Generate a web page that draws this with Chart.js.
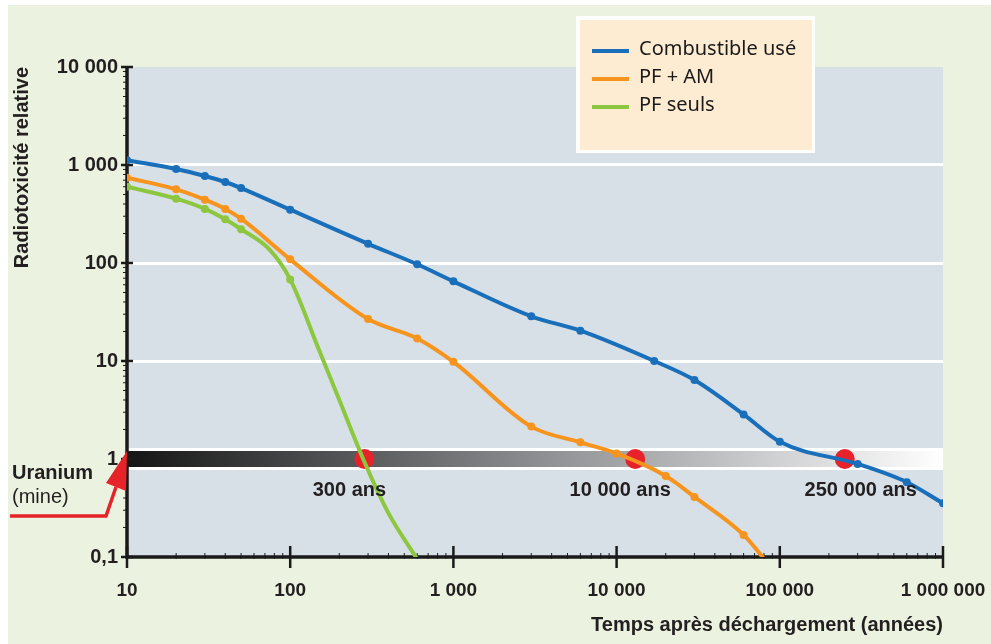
<!DOCTYPE html>
<html lang="fr">
<head>
<meta charset="utf-8">
<title>Radiotoxicité relative</title>
<script src="https://cdn.jsdelivr.net/npm/chart.js@4.4.1/dist/chart.umd.min.js"></script>
<style>
  html, body { margin: 0; padding: 0; background: #fff; }
  #wrap { width: 991px; height: 644px; }
</style>
</head>
<body>
<div id="wrap"><canvas id="radioChart"></canvas></div>
<script>
// temps après déchargement (années) / radiotoxicité relative
const timeCombustible = [10, 20, 30, 40, 50, 100, 300, 600, 1000, 3000, 6000, 17000, 30000, 60000, 100000, 300000, 600000, 1000000];
const valCombustible = [1120, 910, 772, 671, 582, 350, 157, 97, 65, 28.6, 20.4, 10, 6.4, 2.85, 1.5, 0.89, 0.58, 0.353];

const timePfAm = [10, 20, 30, 40, 50, 100, 300, 600, 1000, 3000, 6000, 10000, 20000, 30000, 60000, 90000];
const valPfAm = [742, 565, 443, 356, 283, 109, 26.8, 17, 9.8, 2.14, 1.48, 1.14, 0.67, 0.41, 0.168, 0.075];

const timePf = [10, 20, 30, 40, 50, 75, 100, 150, 200, 280, 400, 600];
const valPf = [601, 453, 356, 279, 221, 136, 68, 13, 4.0, 1.0, 0.28, 0.095];
const pfMarked = [1, 1, 1, 1, 1, 0, 1, 0, 0, 0, 0, 0];

// croisements avec le niveau de l'uranium (1)
const crossTimes = [285, 13000, 250000];
const crossLabels = ['300 ans', '10 000 ans', '250 000 ans'];

const xTicks = [10, 100, 1000, 10000, 100000, 1000000];
const xTickLabels = ['10', '100', '1 000', '10 000', '100 000', '1 000 000'];
const yTicks = [0.1, 1, 10, 100, 1000, 10000];
const yTickLabels = ['0,1', '1', '10', '100', '1 000', '10 000'];

const BLUE = '#1a6fbb';
const ORANGE = '#f7941e';
const GREEN = '#8dc63f';
const RED = '#e8222b';
const INK = '#231f20';
const BOLD = 'bold 20px "Liberation Sans", Arial, sans-serif';

const toPoints = (xs, ys) => xs.map((x, i) => ({ x: x, y: ys[i] }));

const decorations = {
  id: 'decorations',
  beforeDraw(chart) {
    const { ctx, chartArea: a } = chart;
    ctx.save();
    ctx.fillStyle = '#ffffff';
    ctx.fillRect(0, 0, chart.width, chart.height);
    ctx.fillStyle = '#ebf3e0';
    ctx.fillRect(8, 5, chart.width - 8, chart.height - 5);
    ctx.fillStyle = '#d7e0e7';
    ctx.fillRect(a.left, a.top, a.right - a.left, a.bottom - a.top);
    ctx.restore();
  },
  beforeDatasetsDraw(chart) {
    const { ctx, chartArea: a, scales: { x, y } } = chart;
    const y1 = y.getPixelForValue(1);
    ctx.save();
    // bande uranium
    ctx.fillStyle = '#ffffff';
    ctx.fillRect(a.left, y1 - 11, a.right - a.left, 22);
    const grad = ctx.createLinearGradient(a.left, 0, a.right, 0);
    grad.addColorStop(0, '#151515');
    grad.addColorStop(0.5, '#8b8d90');
    grad.addColorStop(1, '#ffffff');
    ctx.fillStyle = grad;
    ctx.fillRect(a.left, y1 - 8, a.right - a.left, 16);

    // axes
    ctx.strokeStyle = '#1a1a1a';
    ctx.lineWidth = 3.5;
    ctx.beginPath();
    ctx.moveTo(a.left, a.top);
    ctx.lineTo(a.left, a.bottom);
    ctx.lineTo(a.right, a.bottom);
    ctx.stroke();

    // graduations y
    yTicks.forEach((d, i) => {
      const py = y.getPixelForValue(d);
      ctx.lineWidth = 2.5;
      ctx.beginPath();
      ctx.moveTo(a.left - 6, py);
      ctx.lineTo(a.left + 6, py);
      ctx.stroke();
      if (i < yTicks.length - 1) {
        ctx.lineWidth = 1;
        for (let k = 2; k < 10; k++) {
          const my = y.getPixelForValue(d * k);
          ctx.beginPath();
          ctx.moveTo(a.left - 4, my);
          ctx.lineTo(a.left, my);
          ctx.stroke();
        }
      }
    });
    // graduations x
    xTicks.forEach((d, i) => {
      const px = x.getPixelForValue(d);
      ctx.lineWidth = 2.5;
      ctx.beginPath();
      ctx.moveTo(px, a.bottom - 11);
      ctx.lineTo(px, a.bottom + 11);
      ctx.stroke();
      if (i < xTicks.length - 1) {
        ctx.lineWidth = 1;
        for (let k = 2; k < 10; k++) {
          const mx = x.getPixelForValue(d * k);
          ctx.beginPath();
          ctx.moveTo(mx, a.bottom - 4);
          ctx.lineTo(mx, a.bottom + 2);
          ctx.stroke();
        }
      }
    });
    ctx.restore();
  },
  afterDraw(chart) {
    const { ctx, chartArea: a, scales: { x, y } } = chart;
    const y1 = y.getPixelForValue(1);
    ctx.save();

    // étiquettes des croisements
    const shifts = [-15, -15, 16];
    ctx.font = BOLD;
    ctx.fillStyle = INK;
    ctx.textAlign = 'center';
    ctx.textBaseline = 'middle';
    crossTimes.forEach((t, i) => {
      ctx.fillText(crossLabels[i], x.getPixelForValue(t) + shifts[i], y1 + 31);
    });

    // Uranium (mine)
    ctx.textAlign = 'left';
    ctx.fillText('Uranium', 12, y1 + 14);
    ctx.font = '20px "Liberation Sans", Arial, sans-serif';
    ctx.fillText('(mine)', 12, y1 + 38);

    // flèche rouge
    const tx = a.left, ty = y1 - 8;
    ctx.strokeStyle = '#e52329';
    ctx.fillStyle = '#e52329';
    ctx.lineWidth = 3.5;
    ctx.lineJoin = 'miter';
    ctx.beginPath();
    ctx.moveTo(10, y1 + 57);
    ctx.lineTo(tx - 21, y1 + 57);
    ctx.lineTo(tx - 11, ty + 36);
    ctx.stroke();
    ctx.beginPath();
    ctx.moveTo(tx, ty);
    ctx.lineTo(tx - 21, ty + 32);
    ctx.lineTo(tx - 1, ty + 40);
    ctx.closePath();
    ctx.fill();

    // légende
    const lx = 576, ly = 16;
    ctx.fillStyle = '#ffffff';
    ctx.fillRect(lx, ly, 239, 137);
    ctx.fillStyle = '#fdebd2';
    ctx.fillRect(lx + 4, ly + 4, 232, 130);
    ctx.font = '20px "Noto Sans", "Open Sans", sans-serif';
    ctx.textBaseline = 'middle';
    chart.data.datasets.slice(0, 3).forEach((ds, i) => {
      const ry = ly + 35 + i * 28;
      ctx.strokeStyle = ds.borderColor;
      ctx.lineWidth = 4;
      ctx.beginPath();
      ctx.moveTo(lx + 16, ry);
      ctx.lineTo(lx + 53, ry);
      ctx.stroke();
      ctx.fillStyle = '#1a1a1a';
      ctx.fillText(ds.label, lx + 63, ry - 2);
    });
    ctx.restore();
  }
};

const lineStyle = (color) => ({
  borderColor: color,
  backgroundColor: color,
  pointBackgroundColor: color,
  borderWidth: 4,
  pointRadius: 4,
  pointBorderWidth: 0,
  cubicInterpolationMode: 'monotone',
  fill: false
});

new Chart(document.getElementById('radioChart'), {
  type: 'line',
  data: {
    datasets: [
      Object.assign({ label: 'Combustible usé', data: toPoints(timeCombustible, valCombustible), order: 0 }, lineStyle(BLUE)),
      Object.assign({ label: 'PF + AM', data: toPoints(timePfAm, valPfAm), order: 1 }, lineStyle(ORANGE)),
      Object.assign({ label: 'PF seuls', data: toPoints(timePf, valPf), order: 2 }, lineStyle(GREEN),
        { pointRadius: pfMarked.map(m => m ? 4 : 0) }),
      {
        label: 'Uranium',
        data: crossTimes.map(t => ({ x: t, y: 1 })),
        showLine: false,
        pointRadius: 10,
        pointBackgroundColor: RED,
        pointBorderWidth: 0,
        order: 10
      }
    ]
  },
  options: {
    responsive: true,
    maintainAspectRatio: false,
    animation: false,
    layout: { padding: { left: 0, right: 48, top: 67, bottom: 0 } },
    plugins: {
      legend: { display: false },
      tooltip: { enabled: false }
    },
    scales: {
      x: {
        type: 'logarithmic',
        min: 10,
        max: 1000000,
        afterBuildTicks: s => { s.ticks = xTicks.map(v => ({ value: v })); },
        afterFit: s => { s.height = 87; s.paddingLeft = 0; s.paddingRight = 0; },
        grid: { display: false },
        border: { display: false },
        ticks: {
          autoSkip: false,
          maxRotation: 0,
          padding: 14,
          color: INK,
          font: { family: '"Liberation Sans", Arial, sans-serif', weight: 'bold', size: 19 },
          callback: (v, i) => xTickLabels[i]
        },
        title: {
          display: true,
          text: 'Temps après déchargement (années)',
          align: 'end',
          color: INK,
          font: { family: '"Liberation Sans", Arial, sans-serif', weight: 'bold', size: 20 },
          padding: { top: 0, bottom: 7 }
        }
      },
      y: {
        type: 'logarithmic',
        min: 0.1,
        max: 10000,
        afterBuildTicks: s => { s.ticks = yTicks.map(v => ({ value: v })); },
        afterFit: s => { s.width = 127; s.paddingTop = 0; s.paddingBottom = 0; },
        grid: {
          drawTicks: false,
          lineWidth: 3,
          color: c => (c.tick && [10, 100, 1000].includes(c.tick.value)) ? '#ffffff' : 'rgba(0,0,0,0)'
        },
        border: { display: false },
        ticks: {
          padding: 9,
          color: INK,
          font: { family: '"Liberation Sans", Arial, sans-serif', weight: 'bold', size: 20 },
          callback: (v, i) => yTickLabels[i]
        },
        title: {
          display: true,
          text: 'Radiotoxicité relative',
          align: 'end',
          color: INK,
          font: { family: '"Liberation Sans", Arial, sans-serif', weight: 'bold', size: 20 },
          padding: { top: 10, bottom: 0 }
        }
      }
    }
  },
  plugins: [decorations]
});
</script>
</body>
</html>
